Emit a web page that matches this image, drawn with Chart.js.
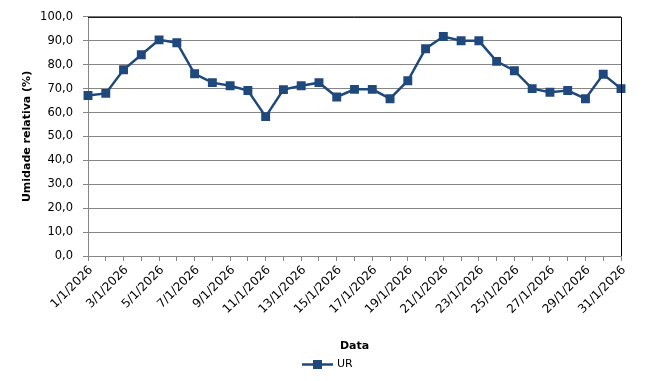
<!DOCTYPE html>
<html>
<head>
<meta charset="utf-8">
<script src="https://cdn.jsdelivr.net/npm/chart.js@4/dist/chart.umd.min.js"></script>
<style>
  html, body { margin: 0; padding: 0; background: #fff; }
  #wrap { width: 663px; height: 381px; }
</style>
</head>
<body>
<div id="wrap"><canvas id="c" width="663" height="381"></canvas></div>
<script>
const categories = ["1/1/2026","2/1/2026","3/1/2026","4/1/2026","5/1/2026","6/1/2026","7/1/2026","8/1/2026","9/1/2026","10/1/2026","11/1/2026","12/1/2026","13/1/2026","14/1/2026","15/1/2026","16/1/2026","17/1/2026","18/1/2026","19/1/2026","20/1/2026","21/1/2026","22/1/2026","23/1/2026","24/1/2026","25/1/2026","26/1/2026","27/1/2026","28/1/2026","29/1/2026","30/1/2026","31/1/2026"];
const urValues = [67.1,68.0,77.9,84.2,90.4,89.2,76.2,72.5,71.2,69.2,58.3,69.6,71.2,72.5,66.5,69.7,69.7,65.8,73.3,86.7,91.8,90.0,90.0,81.4,77.5,70.0,68.5,69.2,65.8,76.0,70.0];
const seriesLabel = "UR";
const yTitle = "Umidade relativa (%)";
const xTitle = "Data";

const LINE_COLOR = "#1F497D";
const FONT = "'DejaVu Sans', Verdana, sans-serif";

const frame = {
  id: 'frame',
  afterDraw(chart) {
    const {ctx, chartArea: a} = chart;
    ctx.save();
    ctx.strokeStyle = '#000';
    ctx.lineWidth = 1;
    ctx.beginPath();
    ctx.moveTo(a.left, a.top + 0.5);
    ctx.lineTo(a.right + 0.5, a.top + 0.5);
    ctx.lineTo(a.right + 0.5, a.bottom);
    ctx.stroke();
    ctx.restore();
  }
};

const customLegend = {
  id: 'customLegend',
  afterDraw(chart) {
    const {ctx} = chart;
    const ds = chart.data.datasets[0];
    const cx = 317.5, cy = 364.5;
    ctx.save();
    ctx.strokeStyle = ds.borderColor;
    ctx.lineWidth = 2.5;
    ctx.beginPath();
    ctx.moveTo(302, cy);
    ctx.lineTo(333, cy);
    ctx.stroke();
    ctx.fillStyle = ds.backgroundColor;
    ctx.fillRect(cx - 4.5, cy - 4.5, 9, 9);
    ctx.fillStyle = '#000';
    ctx.font = "11px " + FONT;
    ctx.textBaseline = 'middle';
    ctx.textAlign = 'left';
    ctx.fillText(ds.label, 337, cy);
    ctx.restore();
  }
};

new Chart(document.getElementById('c'), {
  type: 'line',
  data: {
    labels: categories,
    datasets: [{
      label: seriesLabel,
      data: urValues,
      borderColor: LINE_COLOR,
      backgroundColor: LINE_COLOR,
      borderWidth: 2.5,
      pointStyle: 'rect',
      pointRadius: 6.3,
      pointHoverRadius: 6.3,
      pointBorderWidth: 0,
      tension: 0
    }]
  },
  options: {
    responsive: false,
    animation: false,
    events: [],
    layout: { padding: { left: 0, right: 42, top: 15, bottom: 25 } },
    plugins: {
      legend: { display: false },
      tooltip: { enabled: false },
      title: { display: false }
    },
    scales: {
      x: {
        type: 'category',
        offset: false,
        afterFit(s) { s.height = 100; },
        grid: { drawOnChartArea: false, drawTicks: true, tickLength: 5, color: '#868686' },
        border: { color: '#868686' },
        ticks: {
          autoSkip: false,
          maxRotation: 45,
          minRotation: 45,
          padding: 2,
          labelOffset: 3,
          color: '#000',
          font: { family: FONT, size: 12 },
          callback(v, i) { return i % 2 === 0 ? this.getLabelForValue(v) : ''; }
        },
        title: { display: true, text: xTitle, color: '#000', font: { family: FONT, size: 11, weight: 'bold' }, padding: { top: 4, bottom: 3 } }
      },
      y: {
        min: 0,
        max: 100,
        afterFit(s) { s.width = 88; },
        grid: { color: '#868686', tickLength: 5, drawTicks: true },
        border: { color: '#868686' },
        ticks: {
          stepSize: 10,
          padding: 10,
          color: '#000',
          font: { family: FONT, size: 11.5 },
          callback(v) { return Number(v).toFixed(1).replace('.', ','); }
        },
        title: { display: true, text: yTitle, color: '#000', font: { family: FONT, size: 11, weight: 'bold' }, padding: { top: 21, bottom: 4 } }
      }
    }
  },
  plugins: [frame, customLegend]
});
</script>
</body>
</html>
